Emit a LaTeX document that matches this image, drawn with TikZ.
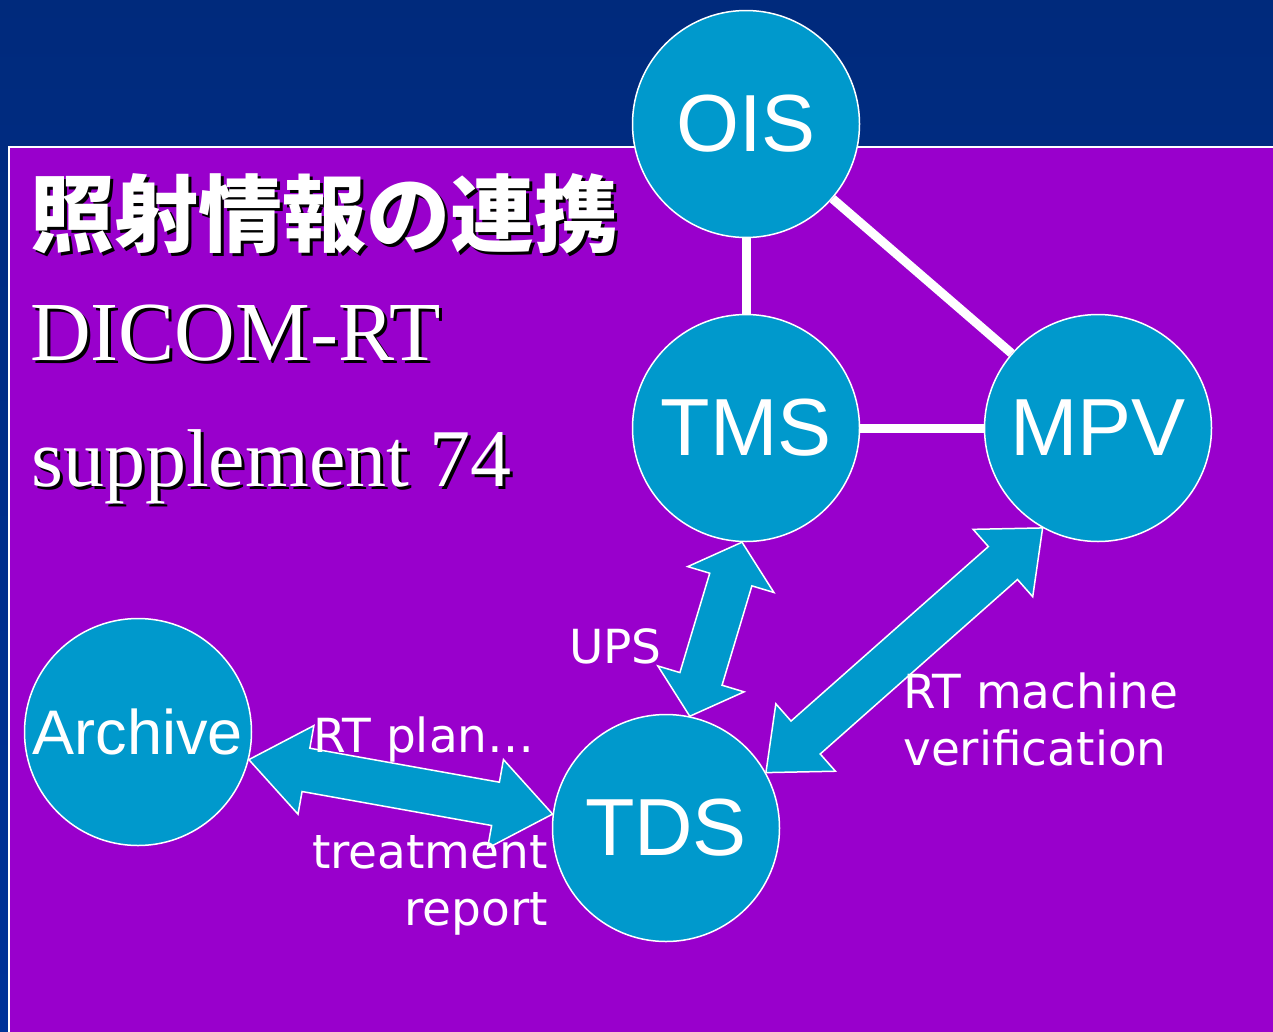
\documentclass[tikz,border=0pt]{standalone}
\usepackage{fontspec}
\setmainfont{Liberation Serif}
\setsansfont{Liberation Sans}
\newfontfamily\labelfont{DejaVu Sans}
\newfontfamily\jpfont{Noto Sans CJK JP}
\usepackage{tikz}
\usetikzlibrary{calc, positioning}
\definecolor{navytop}{HTML}{002A7C}
\definecolor{navybottom}{HTML}{003399}
\definecolor{slidepurple}{HTML}{9900CC}
\definecolor{nodecyan}{HTML}{0099CC}
\tikzstyle{station} = [circle, minimum size=227pt, inner sep=0pt, fill=nodecyan, draw=white, line width=1.5pt, text=white, font=\sffamily\fontsize{81}{81}\selectfont]
\tikzstyle{link} = [draw=white, line width=9pt]
\tikzstyle{fatarrow} = [fill=nodecyan, draw=white, line width=1.5pt, line join=miter]
\tikzstyle{caption} = [inner sep=0pt, text=white, font=\labelfont\fontsize{47}{57}\selectfont]
\tikzstyle{heading} = [inner sep=0pt, anchor=base west, text=white]
\tikzstyle{headshadow} = [inner sep=0pt, anchor=base west, text=black]

% double block arrow: #1 and #2 are the tips, #3 the head length, #4 a name
\newcommand{\dblarrow}[4]{%
  \coordinate (#4a) at ($(#1)!#3!(#2)$);
  \coordinate (#4b) at ($(#2)!#3!(#1)$);
  \draw [fatarrow] (#1) -- ($(#4a)!45pt!90:(#2)$) -- ($(#4a)!22pt!90:(#2)$)
    -- ($(#4b)!22pt!-90:(#1)$) -- ($(#4b)!45pt!-90:(#1)$) -- (#2)
    -- ($(#4b)!45pt!90:(#1)$) -- ($(#4b)!22pt!90:(#1)$)
    -- ($(#4a)!22pt!-90:(#2)$) -- ($(#4a)!45pt!-90:(#2)$) -- cycle;
}

\begin{document}
\begin{tikzpicture}[x=1pt, y=-1pt, node distance=304pt]

        \clip (0,0) rectangle (1273,1031);

        % Fond
        \fill [top color=navytop, bottom color=navybottom] (0,0) rectangle (1273,1031);
        \filldraw [fill=slidepurple, draw=white, line width=2.5pt] (9,147) rectangle (1300,1060);

        % Titre
        \node (titleShadow) [headshadow, font=\jpfont\bfseries\fontsize{84}{84}\selectfont] at (33,248) {照射情報の連携};
        \node (title) [heading, font=\jpfont\bfseries\fontsize{84}{84}\selectfont] at (30,245) {照射情報の連携};
        \node (dicomShadow) [headshadow, font=\rmfamily\fontsize{84}{84}\selectfont] at (33,363) {DICOM-RT};
        \node (dicom) [heading, font=\rmfamily\fontsize{84}{84}\selectfont] at (30,360) {DICOM-RT};
        \node (supplShadow) [headshadow, font=\rmfamily\fontsize{82}{82}\selectfont] at (34,489) {supplement 74};
        \node (suppl) [heading, font=\rmfamily\fontsize{82}{82}\selectfont] at (31,486) {supplement 74};

        % Systemes
        \node (ois) [station] at (746,124) {OIS};
        \node (tms) [station, below of=ois] {TMS};
        \node (mpv) [station, right of=tms, xshift=48pt] {MPV};
        \node (tds) [station] at (666,828) {TDS};
        \node (archive) [station, font=\sffamily\fontsize{63}{63}\selectfont] at (138,732) {Archive};

        % Liaisons
        \draw [link] (ois) -- (tms);
        \draw [link] (ois) -- (mpv);
        \draw [link] (tms) -- (mpv);

        % Echanges
        \dblarrow{tms.-92}{tds.78}{39pt}{upsArrow}
        \dblarrow{mpv.-119}{tds.29}{53pt}{mpvArrow}
        \dblarrow{archive.-14}{tds.173}{58pt}{planArrow}

        % Etiquettes
        \node (ups) [caption, anchor=base east] at (662,663) {UPS};
        \node (plan) [caption, anchor=base west] at (313,752) {RT plan…};
        \node (report) [caption, anchor=base east, align=right] at (548,925) {treatment\\report};
        \node (machine) [caption, anchor=base west, align=left] at (903,765) {RT machine\\verification};

    \end{tikzpicture}
\end{document}
